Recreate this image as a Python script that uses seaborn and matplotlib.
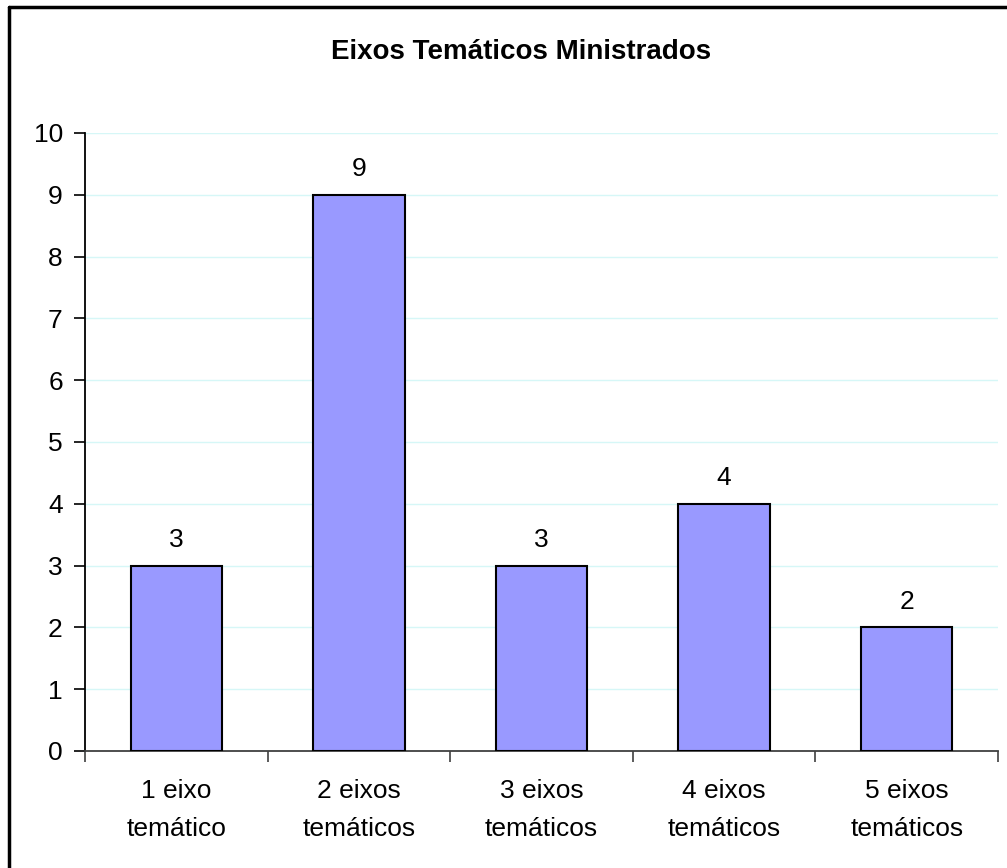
import matplotlib
matplotlib.use("Agg")
import matplotlib.pyplot as plt
from matplotlib.lines import Line2D
import seaborn as sns
import pandas as pd
import numpy as np

categories = ["1 eixo\ntemático", "2 eixos\ntemáticos", "3 eixos\ntemáticos",
              "4 eixos\ntemáticos", "5 eixos\ntemáticos"]
counts = [3, 9, 3, 4, 2]
y_ticks = [0, 1, 2, 3, 4, 5, 6, 7, 8, 9, 10]
title = "Eixos Temáticos Ministrados"

sns.set_theme(style="white")
plt.rcParams["font.family"] = ["Liberation Sans", "DejaVu Sans"]
plt.rcParams["text.color"] = "black"
plt.rcParams["xtick.color"] = "black"
plt.rcParams["ytick.color"] = "black"
plt.rcParams["axes.labelcolor"] = "black"

df = pd.DataFrame({"categoria": categories, "total": counts})

fig = plt.figure(figsize=(10.07, 8.68), dpi=100)
ax = fig.add_axes([0.0844, 0.1348, 0.9067, 0.712])

sns.barplot(data=df, x="categoria", y="total", color="#9999FF", saturation=1,
            width=0.5, edgecolor="black", linewidth=1.5, ax=ax, zorder=3)

ax.set_ylim(0, 10)
ax.set_xlim(-0.5, len(categories) - 0.5)
ax.set_yticks(y_ticks)
ax.set_yticklabels([str(t) for t in y_ticks], fontsize=19)
ax.set_xticks(range(len(categories)))
ax.set_xticklabels(categories, fontsize=19, linespacing=1.75)
ax.set_xticks(np.arange(-0.5, len(categories), 1.0), minor=True)
ax.tick_params(axis="x", which="major", length=0, pad=20)
ax.tick_params(axis="x", which="minor", length=8, width=1.2, color="#404040",
               direction="out", bottom=True)
ax.tick_params(axis="y", which="major", length=8, width=1.2, color="black",
               direction="out", left=True, pad=8)
ax.set_xlabel("")
ax.set_ylabel("")

ax.yaxis.grid(True, color="#D6F7F7", linewidth=1.0, zorder=0)
ax.xaxis.grid(False)
for side in ["top", "right"]:
    ax.spines[side].set_visible(False)
ax.spines["left"].set_color("black")
ax.spines["left"].set_linewidth(1.3)
ax.spines["bottom"].set_color("#404040")
ax.spines["bottom"].set_linewidth(1.3)

for i, v in enumerate(counts):
    ax.text(i, v + 0.22, str(v), ha="center", va="bottom", fontsize=19,
            color="black")

fig.text(0.517, 0.94, title, ha="center", va="center", fontsize=20,
         fontweight="bold", color="black")

# outer frame (left and top edges)
fig.add_artist(Line2D([0.0085, 0.0085], [0.0, 0.9925], transform=fig.transFigure,
                      color="black", linewidth=2.5))
fig.add_artist(Line2D([0.0085, 1.0], [0.9925, 0.9925], transform=fig.transFigure,
                      color="black", linewidth=2.5))

fig.savefig("out.png", dpi=100)
